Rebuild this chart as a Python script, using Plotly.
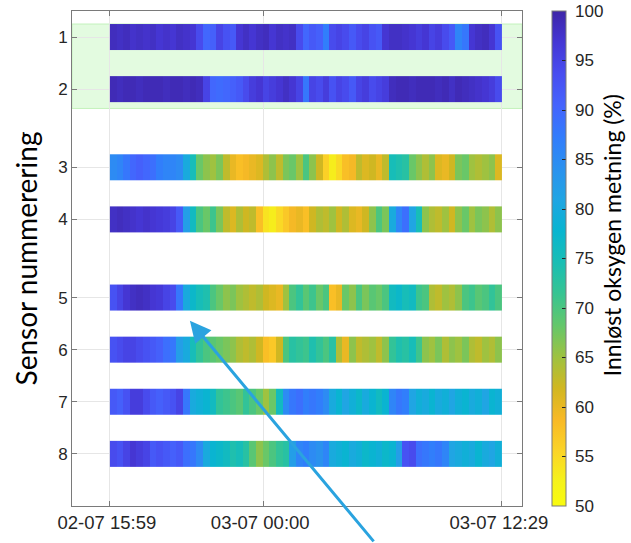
import pandas as pd
import plotly.graph_objects as go

# ---------------- data ----------------
sensor_labels = ["1", "2", "3", "4", "5", "6", "7", "8"]
sensor_pos = [1, 2, 3.5, 4.5, 6, 7, 8, 9]

t_start = "2023-07-02 15:59"
t_end = "2023-07-03 12:29"
n_seg = 59

s1 = [98.5, 98, 98.5, 97.5, 98, 97.5, 98, 97, 97.5, 97, 98, 97.5, 97, 94, 90, 91, 95, 93, 92,
      97, 98, 97, 98, 98.5, 97, 98, 97.5, 98, 94, 90, 92, 91, 87, 94, 95, 94, 92, 94, 95, 93, 92,
      97, 98, 98, 97.5, 97, 96, 97, 95, 96, 94, 92, 86, 88, 97, 98, 98.5, 97, 93]
s2 = [99, 98.5, 99, 99, 98.5, 99, 99, 99, 98.5, 99, 99, 98.5, 99, 98.5, 95, 90, 89.5, 90, 91, 92,
      94, 96, 97, 95, 96, 97, 98, 97, 95, 88, 95, 94, 96, 93, 95, 94, 92, 95, 96, 94, 95, 96,
      98.5, 99, 99, 98.5, 99, 99, 99, 98.5, 99, 98, 99, 98.5, 98, 97.5, 97, 96, 94]
s3 = [85, 86, 88, 90, 91, 90, 89, 87, 86, 86, 85, 80, 75, 68, 66, 65, 67, 63, 60, 58, 59, 60, 61,
      64, 66, 63, 67, 68, 65, 70, 66, 62, 56, 53, 55, 58, 59, 63, 61, 62, 60, 63, 75, 74, 73,
      68, 66, 64, 66, 61, 60, 62, 67, 68, 65, 64, 65, 66, 61]
s4 = [98, 98.5, 98, 97.5, 97, 97.5, 97, 96.5, 96, 95, 92, 82, 76, 70, 68, 71, 67, 63, 61, 64, 62,
      63, 58, 54, 53, 55, 57, 59, 60, 58, 62, 64, 63, 65, 62, 64, 61, 60, 62, 66, 70, 67, 80, 86,
      89, 81, 75, 66, 64, 63, 65, 62, 66, 68, 65, 67, 66, 64, 66]
s5 = [93, 95, 97, 98, 98.5, 98, 97, 96.5, 95, 94, 88, 80, 77, 75, 74, 70, 68, 66, 67, 65, 64, 63,
      64, 62, 61, 60, 65, 70, 72, 69, 71, 68, 70, 58, 60, 68, 66, 70, 67, 69, 68, 70, 76, 77, 75,
      76, 71, 70, 64, 63, 65, 64, 66, 70, 71, 69, 70, 72, 70]
s6 = [93, 94, 95, 95, 94, 93, 92, 91, 89, 88, 82, 80, 75, 72, 70, 69, 68, 67, 66, 64, 63, 64, 62,
      58, 57, 62, 70, 73, 72, 71, 74, 72, 70, 73, 64, 60, 66, 63, 64, 65, 63, 66, 72, 74, 73, 75,
      71, 66, 65, 67, 64, 66, 65, 67, 64, 63, 65, 64, 66]
s7 = [92, 91, 93, 96, 96, 94, 92, 91, 92, 93, 95, 88, 80, 79, 78, 76, 72, 71, 70, 69, 72, 70, 68,
      65, 68, 76, 85, 88, 89, 87, 88, 87, 85, 80, 78, 81, 79, 77, 80, 78, 76, 78, 86, 88, 87,
      81, 79, 80, 78, 80, 79, 81, 79, 78, 80, 79, 81, 78, 79]
s8 = [94, 93, 95, 97, 96, 95, 92, 93, 92, 91, 92, 89, 88, 85, 80, 78, 77, 76, 74, 75, 73, 69, 66,
      68, 70, 72, 73, 82, 86, 87, 85, 84, 86, 80, 79, 78, 80, 79, 77, 78, 79, 77, 78, 82, 93, 94,
      89, 88, 87, 88, 86, 81, 80, 79, 80, 78, 80, 81, 79]
sensor_values = [s1, s2, s3, s4, s5, s6, s7, s8]

tick_times = ["2023-07-02 15:59", "2023-07-03 00:00", "2023-07-03 12:29"]
tick_text = ["02-07 15:59", "03-07 00:00", "03-07 12:29"]
cbar_ticks = [50, 55, 60, 65, 70, 75, 80, 85, 90, 95, 100]
cbar_text = ["\u00a0" + str(v) for v in cbar_ticks]

# parula (reversed so that 100 -> dark blue, 50 -> yellow)
parula = [
    (0.000, (62, 38, 168)), (0.0635, (69, 55, 213)), (0.127, (72, 77, 240)),
    (0.190, (69, 99, 253)), (0.254, (50, 124, 252)), (0.317, (43, 145, 239)),
    (0.381, (32, 165, 227)), (0.444, (8, 181, 208)), (0.508, (25, 190, 180)),
    (0.571, (55, 196, 146)), (0.635, (100, 199, 107)), (0.698, (157, 194, 65)),
    (0.762, (209, 183, 33)), (0.825, (248, 185, 38)), (0.889, (251, 212, 39)),
    (0.952, (245, 243, 26)), (1.000, (249, 251, 14)),
]
colorscale = sorted([[round(1 - t, 4), f"rgb{c}"] for t, c in parula], key=lambda v: v[0])

# ---------------- figure ----------------
edges = pd.date_range(t_start, t_end, periods=n_seg + 1)

fig = go.Figure()
for pos, vals in zip(sensor_pos, sensor_values):
    assert len(vals) == n_seg
    fig.add_trace(go.Heatmap(
        x=edges, y=[pos - 0.25, pos + 0.25], z=[vals],
        coloraxis="coloraxis", hoverinfo="skip",
    ))

axis_col = "#7a7a7a"
txt_col = "#262626"
title_font = "Lato, Open Sans"
fig.update_layout(
    width=631, height=543,
    margin=dict(l=72, r=109, t=10, b=36),
    paper_bgcolor="white", plot_bgcolor="white",
    showlegend=False,
    font=dict(family="Liberation Sans, Arial", size=17, color=txt_col),
    coloraxis=dict(
        colorscale=colorscale, cmin=50, cmax=100,
        colorbar=dict(
            x=1.0667, xanchor="left", xref="paper", xpad=0, ypad=0,
            y=0.5, yanchor="middle", len=1, lenmode="fraction",
            thickness=14, thicknessmode="pixels",
            outlinecolor=axis_col, outlinewidth=1,
            tickvals=cbar_ticks, ticktext=cbar_text,
            ticks="inside", ticklen=4, tickcolor=txt_col,
            ticklabeloverflow="allow",
            tickfont=dict(family="Liberation Sans, Arial", size=17, color=txt_col),
        ),
    ),
    xaxis=dict(
        type="date", range=["2023-07-02 14:00", "2023-07-03 13:32"],
        tickvals=tick_times, ticktext=tick_text, ticklabelshift=-3,
        showgrid=True, gridcolor="#e6e6e6", gridwidth=1,
        showline=True, linecolor=axis_col, linewidth=1, mirror="allticks",
        ticks="inside", ticklen=5, tickcolor=axis_col, zeroline=False,
        tickfont=dict(size=18.5, color=txt_col),
    ),
    yaxis=dict(
        range=[10, 0.5],
        tickvals=sensor_pos, ticktext=sensor_labels,
        showgrid=True, gridcolor="#e6e6e6", gridwidth=1,
        showline=True, linecolor=axis_col, linewidth=1, mirror="allticks",
        ticks="inside", ticklen=5, tickcolor=axis_col, zeroline=False,
        tickfont=dict(size=17, color=txt_col),
        title=dict(text="Sensor nummerering", standoff=12,
                   font=dict(family=title_font, size=28, color="black")),
    ),
    shapes=[dict(
        type="rect", xref="paper", yref="y", x0=0, x1=1, y0=0.75, y1=2.37,
        fillcolor="rgb(227,251,224)", line=dict(color="rgb(195,242,188)", width=1),
        layer="below",
    )],
    annotations=[
        dict(
            xref="paper", yref="paper", x=0.262, y=0.374, text="",
            showarrow=True, ax=185, ay=222, axref="pixel", ayref="pixel",
            arrowhead=2, arrowsize=1.4, arrowwidth=3, arrowcolor="#2aa3df",
            standoff=0,
        ),
        dict(
            xref="paper", yref="paper", x=1.2, y=0.547,
            text="Innløst oksygen metning (%)", textangle=-90, showarrow=False,
            xanchor="center", yanchor="middle",
            font=dict(family=title_font, size=23, color="black"),
        ),
    ],
)

fig.write_html("out.html", config={"displayModeBar": False},
               post_script="document.body.style.margin='0';")
